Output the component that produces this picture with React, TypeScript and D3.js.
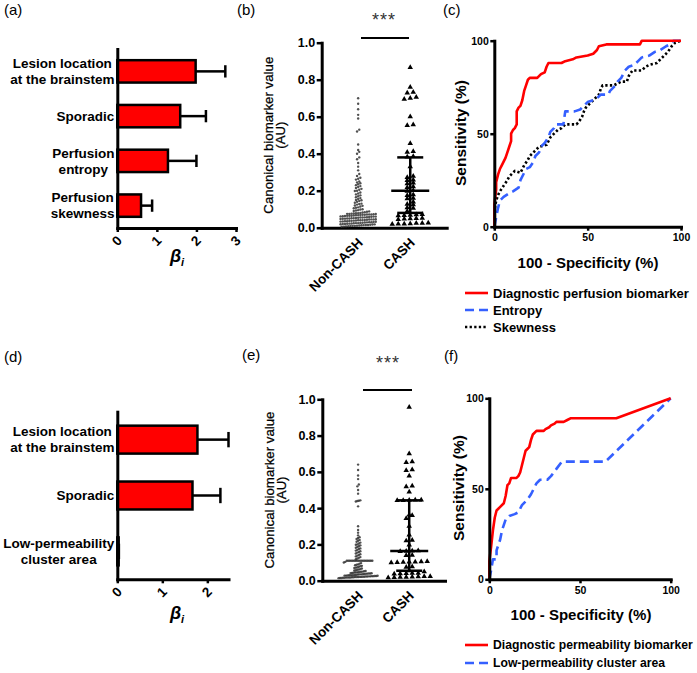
import React, { useEffect, useRef } from 'react';
import * as d3 from 'd3';

const W = 697;
const H = 673;
const FONT = "'Liberation Sans', Arial, Helvetica, sans-serif";

// ---------- (a) / (d) regression coefficients ----------
const barACategories = [["Lesion location", "at the brainstem"], ["Sporadic"], ["Perfusion", "entropy"], ["Perfusion", "skewness"]];
const barAValues = [1.98, 1.59, 1.28, 0.6];
const barAUpper = [2.73, 2.24, 2.0, 0.88];
const barATicks = [0, 1, 2, 3];

const barDCategories = [["Lesion location", "at the brainstem"], ["Sporadic"], ["Low-permeability", "cluster area"]];
const barDValues = [1.78, 1.67, 0.03];
const barDUpper = [2.47, 2.29, 0.035];
const barDTicks = [0, 1, 2];

// ---------- (b) / (e) scatter ----------
const groups = ["Non-CASH", "CASH"];
const scatterTicks = [0, 0.2, 0.4, 0.6, 0.8, 1.0];

const nonCashB = [0.70, 0.67, 0.64, 0.61, 0.59, 0.53, 0.52, 0.45, 0.42, 0.41, 0.40, 0.38, 0.37, 0.35, 0.33, 0.31, 0.29, 0.28, 0.27, 0.265, 0.26, 0.25, 0.245, 0.24, 0.235, 0.23, 0.225, 0.22, 0.215, 0.21, 0.205, 0.20, 0.198, 0.19, 0.185, 0.18, 0.175, 0.17, 0.165, 0.16, 0.155, 0.15, 0.148, 0.145, 0.14, 0.135, 0.13, 0.128, 0.125, 0.12, 0.118, 0.115, 0.11, 0.108, 0.105, 0.10, 0.098, 0.095, 0.093, 0.09, 0.088, 0.086, 0.084, 0.082, 0.08,
  0.079, 0.078, 0.077, 0.076, 0.075, 0.075, 0.074, 0.073, 0.072, 0.072, 0.071, 0.070, 0.070, 0.069, 0.068, 0.067, 0.066, 0.065, 0.065, 0.064, 0.063, 0.062, 0.061, 0.060, 0.060, 0.059, 0.058, 0.057, 0.056, 0.055, 0.055, 0.054, 0.053, 0.052, 0.051, 0.050, 0.050, 0.049, 0.048, 0.047, 0.046, 0.045, 0.045, 0.044, 0.043, 0.042, 0.041, 0.040, 0.040, 0.039, 0.038, 0.037, 0.036, 0.035, 0.035, 0.034, 0.033, 0.032, 0.031, 0.030, 0.030, 0.029, 0.028, 0.027, 0.026, 0.025, 0.025, 0.024, 0.023, 0.022, 0.021, 0.020, 0.020, 0.019, 0.018, 0.017, 0.016, 0.015, 0.015, 0.014, 0.013, 0.012, 0.011, 0.010, 0.010, 0.009, 0.008, 0.007, 0.006, 0.005];
const cashB = [0.867, 0.759, 0.732, 0.728, 0.705, 0.70, 0.695, 0.60, 0.557, 0.553, 0.456, 0.412, 0.408, 0.385, 0.382, 0.33, 0.278, 0.272, 0.258, 0.255, 0.242, 0.238, 0.222, 0.218, 0.202, 0.198, 0.178, 0.175, 0.16, 0.157, 0.14, 0.127, 0.124, 0.108, 0.105, 0.09, 0.072, 0.07, 0.068, 0.067, 0.065, 0.052, 0.05, 0.049, 0.047, 0.045, 0.026, 0.025, 0.024, 0.022, 0.021, 0.02, 0.019];
const cashBStats = [0.08, 0.20, 0.38]; // Q1, median, Q3

const nonCashE = [0.64, 0.61, 0.58, 0.56, 0.53, 0.52, 0.50, 0.48, 0.443, 0.441, 0.439, 0.437, 0.41, 0.30, 0.28, 0.265, 0.25, 0.24, 0.235, 0.23, 0.225, 0.22, 0.215, 0.21, 0.205, 0.20, 0.198, 0.195, 0.19, 0.186, 0.182, 0.178, 0.175, 0.17, 0.166, 0.162, 0.158, 0.155, 0.15, 0.146, 0.142, 0.138, 0.134, 0.13, 0.126, 0.122, 0.118,
  0.11, 0.11, 0.11, 0.11, 0.11, 0.11, 0.11, 0.11, 0.11, 0.11, 0.11, 0.11, 0.11, 0.11, 0.11, 0.11, 0.11, 0.11,
  0.104, 0.10, 0.097, 0.094, 0.09, 0.088, 0.085, 0.082, 0.08, 0.077, 0.074, 0.072, 0.07, 0.067, 0.064, 0.062, 0.06, 0.058, 0.056, 0.054, 0.052,
  0.050, 0.049, 0.048, 0.047, 0.046, 0.045, 0.044, 0.043, 0.042, 0.041, 0.040, 0.040, 0.039, 0.038, 0.037, 0.036, 0.035, 0.035, 0.034, 0.033, 0.032, 0.031, 0.030, 0.030, 0.030, 0.029, 0.028, 0.028, 0.027, 0.026, 0.026, 0.025, 0.025, 0.024, 0.024, 0.023, 0.023, 0.022, 0.022, 0.021, 0.021, 0.020, 0.020, 0.020, 0.019, 0.019, 0.018, 0.018, 0.017, 0.017, 0.016, 0.016, 0.015, 0.015, 0.014];
const cashE = [0.956, 0.70, 0.656, 0.652, 0.612, 0.608, 0.577, 0.522, 0.518, 0.49, 0.445, 0.445, 0.444, 0.443, 0.442, 0.362, 0.36, 0.344, 0.30, 0.252, 0.224, 0.22, 0.197, 0.165, 0.164, 0.163, 0.162, 0.141, 0.139, 0.106, 0.105, 0.104, 0.103, 0.102, 0.101, 0.10, 0.077, 0.075, 0.055, 0.05, 0.042, 0.041, 0.04, 0.039, 0.038, 0.024, 0.023, 0.022, 0.021, 0.02, 0.019, 0.018, 0.017];
const cashEStats = [0.055, 0.164, 0.443];

// ---------- (c) / (f) ROC curves ----------
const rocTicks = [0, 50, 100];
const rocCPerfusion: [number, number][] = [[0, 0], [0, 12], [1, 20], [1, 24], [2, 28], [3, 31], [4, 33], [5, 35], [6, 37], [7, 40], [8, 43], [9, 46], [9, 50], [10, 52], [11, 53], [12, 55], [12, 62], [13, 64], [14, 65], [15, 68], [16, 73], [17, 76], [18, 79], [19, 80], [23, 80], [25, 82], [27, 83], [28, 86], [29, 88], [36, 88], [38, 89], [42, 90], [44, 91], [50, 92], [53, 93], [55, 95], [56, 97], [60, 98], [78, 98], [79, 100], [100, 100]];
const rocCEntropy: [number, number][] = [[0, 0], [1, 5], [2, 10], [3, 14], [5, 16], [8, 18], [10, 19], [13, 21], [14, 25], [16, 29], [17, 31], [19, 32], [21, 35], [22, 38], [24, 40], [25, 43], [27, 45], [29, 48], [30, 51], [32, 53], [33, 55], [37, 55], [38, 62], [43, 62], [46, 63], [48, 65], [50, 67], [53, 68], [55, 69], [57, 71], [61, 71], [62, 73], [64, 75], [66, 78], [68, 80], [70, 84], [72, 86], [75, 87], [77, 89], [79, 91], [83, 92], [86, 94], [89, 95], [92, 97], [94, 98], [96, 100], [100, 100]];
const rocCSkewness: [number, number][] = [[0, 0], [0, 8], [1, 14], [2, 17], [3, 19], [5, 22], [7, 25], [8, 27], [10, 29], [11, 30], [14, 29], [15, 31], [16, 33], [18, 36], [19, 38], [21, 40], [22, 41], [24, 43], [28, 44], [29, 46], [30, 48], [32, 50], [34, 52], [36, 53], [38, 55], [44, 55], [45, 56], [47, 59], [48, 62], [49, 64], [51, 66], [53, 68], [56, 71], [57, 74], [58, 76], [64, 76], [66, 77], [68, 78], [71, 78], [72, 81], [74, 84], [79, 84], [81, 86], [83, 87], [87, 88], [89, 90], [91, 92], [93, 94], [95, 97], [97, 99], [100, 100]];
const rocCLabels = ["Diagnostic perfusion biomarker", "Entropy", "Skewness"];

const rocFPermeability: [number, number][] = [[0, 0], [0, 10], [1, 18], [2, 27], [3, 34], [4, 38], [6, 40], [8, 42], [9, 46], [10, 52], [11, 53], [12, 56], [15, 56], [16, 57], [17, 59], [18, 63], [19, 67], [20, 71], [21, 72], [22, 73], [23, 77], [24, 80], [26, 82], [30, 82], [31, 83], [33, 84], [34, 85], [36, 86], [37, 87], [41, 87], [43, 88], [45, 89], [70, 89], [100, 100]];
const rocFCluster: [number, number][] = [[0, 0], [1, 5], [2, 11], [4, 11], [4, 16], [6, 22], [7, 27], [9, 33], [11, 35], [14, 36], [16, 37], [18, 41], [21, 44], [23, 47], [26, 53], [28, 55], [32, 55], [34, 57], [37, 61], [40, 65], [64, 65], [100, 100]];
const rocFLabels = ["Diagnostic permeability biomarker", "Low-permeability cluster area"];

const STYLE_RED = { color: '#ff0000', dash: null as string | null };
const STYLE_BLUE = { color: '#3560ff', dash: '9,5' };
const STYLE_DOT = { color: '#000000', dash: '2.3,2.3' };

function styleAxis(sel: any, fontSize: number) {
  sel.attr('font-family', FONT).attr('font-size', fontSize).attr('font-weight', 'bold');
  sel.select('.domain').attr('stroke', '#000').attr('stroke-width', 3).attr('stroke-linecap', 'square');
  sel.selectAll('.tick line').attr('stroke', '#000').attr('stroke-width', 2.5);
  sel.selectAll('.tick text').attr('fill', '#000');
}

function panelLabel(svg: any, text: string, x: number, y: number) {
  svg.append('text').attr('x', x).attr('y', y).attr('font-family', FONT).attr('font-size', 15).attr('fill', '#000').text(text);
}

function drawBarPanel(svg: any, cfg: any) {
  const g = svg.append('g');
  const x = d3.scaleLinear().domain(cfg.xDomain).range(cfg.xRange);
  const names = cfg.categories.map((c: string[]) => c.join(' '));
  const y = d3.scaleBand().domain(names).range(cfg.yRange).paddingInner(0.5).paddingOuter(0.25);
  const rows = names.map((n: string, i: number) => ({ name: n, lines: cfg.categories[i], v: cfg.values[i], u: cfg.upper[i] }));
  const bw = y.bandwidth();
  const capH = bw * 0.55;

  g.selectAll('line.err').data(rows).join('line')
    .attr('x1', (d: any) => x(d.v)).attr('x2', (d: any) => x(d.u))
    .attr('y1', (d: any) => y(d.name)! + bw / 2).attr('y2', (d: any) => y(d.name)! + bw / 2)
    .attr('stroke', '#000').attr('stroke-width', 2.5);
  g.selectAll('line.cap').data(rows).join('line')
    .attr('x1', (d: any) => x(d.u)).attr('x2', (d: any) => x(d.u))
    .attr('y1', (d: any) => y(d.name)! + bw / 2 - capH / 2).attr('y2', (d: any) => y(d.name)! + bw / 2 + capH / 2)
    .attr('stroke', '#000').attr('stroke-width', 2.5);
  g.selectAll('rect.bar').data(rows).join('rect')
    .attr('x', x(0)).attr('y', (d: any) => y(d.name)!)
    .attr('width', (d: any) => Math.max(0.5, x(d.v) - x(0))).attr('height', bw)
    .attr('fill', '#ff0000').attr('stroke', '#000').attr('stroke-width', 2.5);

  const ya = g.append('g').attr('transform', `translate(${cfg.xRange[0]},0)`)
    .call(d3.axisLeft(y).tickSize(0).tickSizeOuter(0).tickFormat(() => ''));
  styleAxis(ya, 13);
  const xa = g.append('g').attr('transform', `translate(0,${cfg.yRange[1]})`)
    .call(d3.axisBottom(x).tickValues(cfg.ticks).tickSize(4).tickSizeOuter(0).tickFormat(d3.format('d')));
  styleAxis(xa, 13.5);
  xa.selectAll('.tick text').attr('y', 0).attr('dy', 0).attr('text-anchor', 'end')
    .attr('transform', 'translate(5,13.5) rotate(-45)');

  rows.forEach((d: any) => {
    const cy = y(d.name)! + bw / 2;
    const t = g.append('text').attr('font-family', FONT).attr('font-size', 13.5).attr('font-weight', 'bold')
      .attr('text-anchor', 'middle').attr('fill', '#000');
    const n = d.lines.length;
    d.lines.forEach((line: string, k: number) => {
      t.append('tspan').attr('x', 0).attr('y', (k - (n - 1) / 2) * 16).attr('dy', '0.35em').text(line);
    });
    const wBox = (t.node() as SVGTextElement).getBBox().width;
    t.attr('transform', `translate(${cfg.labelRight - wBox / 2},${cy})`);
  });

  const tt = g.append('text').attr('x', cfg.titleX).attr('y', cfg.titleY).attr('text-anchor', 'middle')
    .attr('font-family', FONT).attr('font-weight', 'bold').attr('font-style', 'italic').attr('fill', '#000');
  tt.append('tspan').attr('font-size', 18).text('β');
  tt.append('tspan').attr('font-size', 11).attr('dy', 4).text('i');
}

// row-wise dot-plot layout: values within rowH pixels share a row and are spread sideways
function swarm(vals: number[], y: any, cx: number, rowH: number, spacing: number) {
  const sorted = [...vals].sort((a, b) => a - b);
  const pts: { x: number; y: number }[] = [];
  let group: number[] = [];
  let startY: number | null = null;
  const flush = () => {
    const n = group.length;
    group.forEach((v, i) => pts.push({ x: cx + (i - (n - 1) / 2) * spacing, y: y(v) }));
    group = [];
  };
  for (const v of sorted) {
    const py = y(v);
    if (startY === null || Math.abs(py - startY) > rowH) { flush(); startY = py; }
    group.push(v);
  }
  flush();
  return pts;
}

function drawScatterPanel(svg: any, cfg: any) {
  const g = svg.append('g');
  const y = d3.scaleLinear().domain([0, 1]).range([cfg.yBottom, cfg.yTop]);
  const x = d3.scalePoint().domain(groups).range([cfg.axisX, cfg.xEnd]).padding(0.7);

  const ya = g.append('g').attr('transform', `translate(${cfg.axisX},0)`)
    .call(d3.axisLeft(y).tickValues(scatterTicks).tickFormat(d3.format('.1f')).tickSize(5).tickSizeOuter(0).tickPadding(1.5));
  styleAxis(ya, 12.5);
  const xa = g.append('g').attr('transform', `translate(0,${cfg.yBottom})`)
    .call(d3.axisBottom(x).tickSize(0).tickSizeOuter(0));
  styleAxis(xa, 13.5);
  xa.selectAll('.tick text').attr('y', 0).attr('dy', 0).attr('text-anchor', 'end')
    .attr('transform', 'translate(5,16) rotate(-45)');

  const ptsN = swarm(cfg.nonCash, y, x('Non-CASH')!, 2.5, cfg.nSpacing);
  g.append('g').selectAll('circle').data(ptsN).join('circle')
    .attr('cx', (d: any) => d.x).attr('cy', (d: any) => d.y).attr('r', 1.2)
    .attr('fill', '#333').attr('fill-opacity', 0.85);

  const cx = x('CASH')!;
  const ptsC = swarm(cfg.cash, y, cx, 3, 6);
  const tri = d3.symbol().type(d3.symbolTriangle).size(13);
  g.append('g').selectAll('path').data(ptsC).join('path')
    .attr('d', tri as any).attr('transform', (d: any) => `translate(${d.x},${d.y})`).attr('fill', '#000');

  const [q1, med, q3] = cfg.stats;
  const st = g.append('g').attr('stroke', '#000').attr('stroke-width', 2.5);
  st.append('line').attr('x1', cx).attr('x2', cx).attr('y1', y(q1)).attr('y2', y(q3));
  st.append('line').attr('x1', cx - 19).attr('x2', cx + 19).attr('y1', y(med)).attr('y2', y(med));
  st.append('line').attr('x1', cx - 13).attr('x2', cx + 13).attr('y1', y(q1)).attr('y2', y(q1));
  st.append('line').attr('x1', cx - 13).attr('x2', cx + 13).attr('y1', y(q3)).attr('y2', y(q3));

  g.append('line').attr('x1', cfg.sig[0]).attr('x2', cfg.sig[1]).attr('y1', cfg.sigY).attr('y2', cfg.sigY)
    .attr('stroke', '#000').attr('stroke-width', 2.2);
  g.append('text').attr('x', cfg.starX).attr('y', cfg.starY).attr('text-anchor', 'middle')
    .attr('font-family', FONT).attr('font-size', 18).attr('letter-spacing', 1).attr('fill', '#333').text('***');

  const midY = (cfg.yTop + cfg.yBottom) / 2;
  g.append('text').attr('transform', `translate(${cfg.axisX - 53},${midY}) rotate(-90)`)
    .attr('text-anchor', 'middle').attr('dy', '0.35em').attr('font-family', FONT).attr('font-size', 12.5)
    .attr('textLength', 157).attr('lengthAdjust', 'spacingAndGlyphs').attr('fill', '#000')
    .attr('stroke', '#000').attr('stroke-width', 0.25)
    .text('Canonical biomarker value');
  g.append('text').attr('transform', `translate(${cfg.axisX - 41},${midY}) rotate(-90)`)
    .attr('text-anchor', 'middle').attr('dy', '0.35em').attr('font-family', FONT).attr('font-size', 12.5)
    .attr('textLength', 27).attr('lengthAdjust', 'spacingAndGlyphs').attr('fill', '#000')
    .attr('stroke', '#000').attr('stroke-width', 0.25)
    .text('(AU)');
}

function drawRocPanel(svg: any, cfg: any) {
  const g = svg.append('g');
  const x = d3.scaleLinear().domain([0, 100]).range([cfg.x0, cfg.x1]);
  const y = d3.scaleLinear().domain([0, 100]).range([cfg.yBottom, cfg.yTop]);

  const line = d3.line<[number, number]>().x(d => x(d[0])).y(d => y(d[1]));
  [...cfg.series].reverse().forEach((s: any) => {
    g.append('path').attr('d', line(s.data)).attr('fill', 'none').attr('stroke', s.style.color)
      .attr('stroke-width', 2.6).attr('stroke-dasharray', s.style.dash).attr('stroke-linejoin', 'round');
  });

  const ya = g.append('g').attr('transform', `translate(${cfg.x0},0)`)
    .call(d3.axisLeft(y).tickValues(rocTicks).tickSize(4).tickSizeOuter(0).tickPadding(1.5));
  styleAxis(ya, 10.5);
  const xa = g.append('g').attr('transform', `translate(0,${cfg.yBottom})`)
    .call(d3.axisBottom(x).tickValues(rocTicks).tickSize(4).tickSizeOuter(0).tickPadding(3));
  styleAxis(xa, 10.5);

  g.append('text').attr('x', cfg.xTitle[0]).attr('y', cfg.xTitle[1]).attr('text-anchor', 'middle')
    .attr('font-family', FONT).attr('font-size', 15).attr('font-weight', 'bold').attr('fill', '#000')
    .text('100 - Specificity (%)');
  g.append('text').attr('transform', `translate(${cfg.yTitle[0]},${cfg.yTitle[1]}) rotate(-90)`)
    .attr('text-anchor', 'middle').attr('dy', '0.35em')
    .attr('font-family', FONT).attr('font-size', 15.5).attr('font-weight', 'bold').attr('fill', '#000')
    .text('Sensitivity (%)');

  cfg.series.forEach((s: any, i: number) => {
    const ly = cfg.legendY[i];
    g.append('line').attr('x1', 465).attr('x2', 488).attr('y1', ly).attr('y2', ly)
      .attr('stroke', s.style.color).attr('stroke-width', 2.6).attr('stroke-dasharray', s.style.dash);
    g.append('text').attr('x', 493).attr('y', ly).attr('dy', '0.35em')
      .attr('font-family', FONT).attr('font-size', cfg.legendFont).attr('font-weight', 'bold').attr('fill', '#000')
      .text(s.label);
  });
}

export default function App() {
  const ref = useRef<SVGSVGElement>(null);
  useEffect(() => {
    const svg = d3.select(ref.current);
    svg.selectAll('*').remove();
    svg.append('rect').attr('width', W).attr('height', H).attr('fill', '#fff');

    panelLabel(svg, '(a)', 4, 15);
    panelLabel(svg, '(b)', 237, 15);
    panelLabel(svg, '(c)', 443, 15);
    panelLabel(svg, '(d)', 4, 362);
    panelLabel(svg, '(e)', 242, 360);
    panelLabel(svg, '(f)', 444, 361);

    drawBarPanel(svg, {
      categories: barACategories, values: barAValues, upper: barAUpper, ticks: barATicks,
      xDomain: [0, 3], xRange: [117.3, 236], yRange: [49, 228], labelRight: 114.5, titleX: 177, titleY: 262,
    });
    drawBarPanel(svg, {
      categories: barDCategories, values: barDValues, upper: barDUpper, ticks: barDTicks,
      xDomain: [0, 2.47], xRange: [117.3, 228.5], yRange: [411.7, 579.3], labelRight: 114.5, titleX: 177, titleY: 619,
    });

    drawScatterPanel(svg, {
      nonCash: nonCashB, cash: cashB, stats: cashBStats, nSpacing: 2.2,
      axisX: 321.7, xEnd: 446.7, yTop: 42.7, yBottom: 227.7,
      sig: [361, 409], sigY: 38, starX: 384, starY: 26,
    });
    drawScatterPanel(svg, {
      nonCash: nonCashE, cash: cashE, stats: cashEStats, nSpacing: 1.5,
      axisX: 322.3, xEnd: 445, yTop: 399.3, yBottom: 580.7,
      sig: [363, 412], sigY: 390, starX: 388, starY: 369,
    });

    drawRocPanel(svg, {
      x0: 494.3, x1: 681, yTop: 40.7, yBottom: 226.7, legendFont: 13,
      xTitle: [588, 268], yTitle: [461, 133], legendY: [293, 310, 327],
      series: [
        { data: rocCPerfusion, style: STYLE_RED, label: rocCLabels[0] },
        { data: rocCEntropy, style: STYLE_BLUE, label: rocCLabels[1] },
        { data: rocCSkewness, style: STYLE_DOT, label: rocCLabels[2] },
      ],
    });
    drawRocPanel(svg, {
      x0: 489.3, x1: 670.7, yTop: 398.3, yBottom: 579.3, legendFont: 12.2,
      xTitle: [581, 620], yTitle: [459, 488], legendY: [645, 663],
      series: [
        { data: rocFPermeability, style: STYLE_RED, label: rocFLabels[0] },
        { data: rocFCluster, style: STYLE_BLUE, label: rocFLabels[1] },
      ],
    });
  }, []);
  return <svg ref={ref} width={W} height={H} style={{ position: 'absolute', left: 0, top: 0 }} />;
}
